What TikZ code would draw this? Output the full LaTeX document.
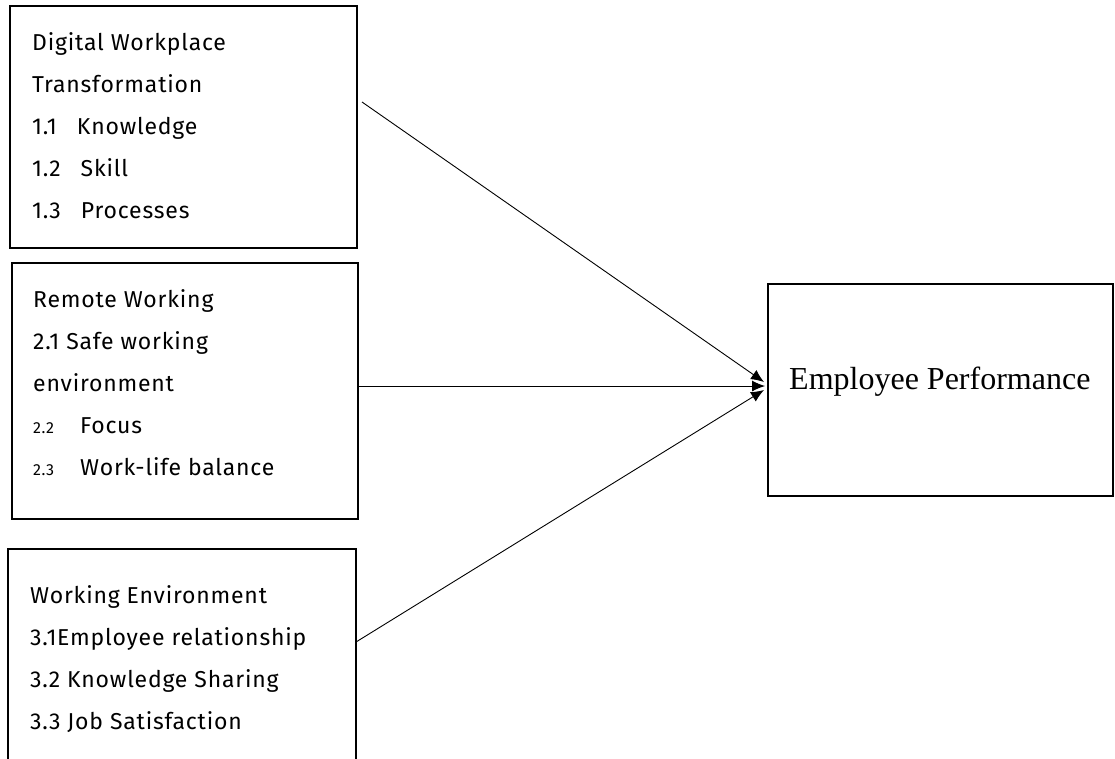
\documentclass[tikz,border=0pt]{standalone}
\usepackage{fontspec}
\newfontfamily\itemfont[LetterSpace=3.5]{Fira Sans}
\newfontfamily\timesfont{Liberation Serif}
\usetikzlibrary{arrows.meta}

\newcommand{\smallno}[1]{{\fontsize{16}{42}\selectfont #1}\hspace{26pt}}

\tikzset{
  factor/.style={draw, line width=2.5pt, anchor=north west, outer sep=0pt, inner sep=0pt},
  items/.style={anchor=base west, align=left, inner sep=0pt,
    font=\itemfont\fontsize{23}{42}\selectfont},
  effect/.style={-{Latex[length=13pt,width=11pt]}, line width=0.9pt}
}

\begin{document}
\begin{tikzpicture}[x=1pt,y=-1pt]
			%%%%% START %%%%%
			\useasboundingbox (0,0) rectangle (1115,758);
			
			% independent variables (lists are placed by their last baseline)
			\node[factor, minimum width=347pt, minimum height=242pt] (dwt) at (10,6) {};
			\node[items] (dwtlist) at (32,218) {Digital Workplace\\Transformation\\1.1\hspace{20pt}Knowledge\\1.2\hspace{20pt}Skill\\1.3\hspace{20pt}Processes};
			
			\node[factor, minimum width=346pt, minimum height=256pt] (rw) at (12,263) {};
			\node[items] (rwlist) at (33,475) {Remote Working\\2.1 Safe working\\environment\\\smallno{2.2}Focus\\\smallno{2.3}Work-life balance};
			
			\node[factor, minimum width=348pt, minimum height=230pt] (we) at (8,549) {};
			\node[items] (welist) at (30,729) {Working Environment\\3.1Employee relationship\\3.2 Knowledge Sharing\\3.3 Job Satisfaction};
			
			% dependent variable
			\node[factor, minimum width=345pt, minimum height=212pt] (perf) at (768,284) {};
			\node[anchor=base west, inner sep=0pt, font=\timesfont\fontsize{32}{38}\selectfont] (perftext) at (789,389) {Employee Performance};
			
			% paths
			\draw[effect] ([xshift=5pt,yshift=25pt]dwt.east) -- ([xshift=-4pt,yshift=8pt]perf.west);
			\draw[effect] ([yshift=5pt]rw.east) -- ([xshift=-3pt,yshift=4pt]perf.west);
			\draw[effect] ([yshift=22pt]we.east) -- ([xshift=-4pt]perf.west);
			%%%%% END %%%%%
\end{tikzpicture}
\end{document}
